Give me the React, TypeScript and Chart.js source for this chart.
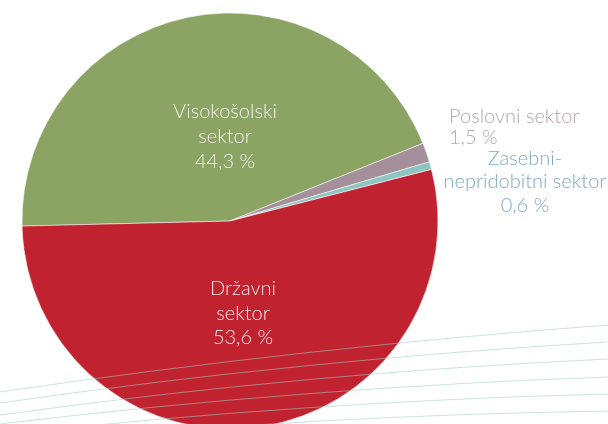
import React, { useEffect, useRef } from "react";
import { Chart, ArcElement, PieController } from "chart.js";

Chart.register(ArcElement, PieController);

// ---- data ----
const categories = [
  "Visokošolski sektor",
  "Poslovni sektor",
  "Zasebni-nepridobitni sektor",
  "Državni sektor",
];
const labelLines = [
  ["Visokošolski", "sektor"],
  ["Poslovni sektor"],
  ["Zasebni-", "nepridobitni sektor"],
  ["Državni", "sektor"],
];
const shares = [44.3, 1.5, 0.6, 53.6];
const valueLabels = ["44,3 %", "1,5 %", "0,6 %", "53,6 %"];

// ---- styling ----
const sliceColors = ["#8BA464", "#A48F9B", "#8FC5C0", "#C0222F"];
const textColors = ["#F4F1EA", "#B8A2AE", "#80A9C2", "#F6E6E8"];
// label anchor relative to pie centre, in units of the radius
const labelLayout = [
  { dx: -0.024, dy: -0.495, align: "center", lh: 24.8, size: 20 },
  { dx: 1.053, dy: -0.473, align: "left", lh: 21.6, size: 20 },
  { dx: 1.418, dy: -0.269, align: "center", lh: 23.3, size: 20 },
  { dx: 0.0625, dy: 0.356, align: "center", lh: 24.5, size: 20 },
];
const waveCurves = [
  [392, 347.5, 325],
  [403, 359.5, 342],
  [415, 373, 359],
  [424, 387.5, 377],
  [435, 401.5, 394],
  [446, 415.5, 411],
];

const labelsPlugin = {
  id: "sliceLabels",
  afterDatasetsDraw(chart: any) {
    const ctx = chart.ctx;
    const meta = chart.getDatasetMeta(0);
    ctx.save();
    meta.data.forEach((arc: any, i: number) => {
      const { x, y, outerRadius } = arc.getProps(["x", "y", "outerRadius"], true);
      const L = labelLayout[i];
      const ax = x + L.dx * outerRadius;
      const ay = y + L.dy * outerRadius;
      ctx.font = `300 ${L.size}px Lato, "Open Sans", sans-serif`;
      ctx.fillStyle = textColors[i];
      ctx.textAlign = L.align;
      ctx.textBaseline = "alphabetic";
      const lines = [...labelLines[i], valueLabels[i]];
      lines.forEach((t, k) => ctx.fillText(t, ax, ay + k * L.lh));
    });
    ctx.restore();
  },
  afterDraw(chart: any) {
    const ctx = chart.ctx;
    const w = chart.width;
    ctx.save();
    ctx.strokeStyle = "rgba(160,205,195,0.55)";
    ctx.lineWidth = 1.2;
    waveCurves.forEach(([y0, yc, y1]) => {
      ctx.beginPath();
      ctx.moveTo(0, y0);
      ctx.quadraticCurveTo(w / 2, yc, w, y1);
      ctx.stroke();
    });
    ctx.restore();
  },
};

export default function App() {
  const ref = useRef<HTMLCanvasElement | null>(null);
  useEffect(() => {
    document.body.style.margin = "0";
    const chart = new Chart(ref.current as HTMLCanvasElement, {
      type: "pie",
      data: {
        labels: categories,
        datasets: [
          {
            data: shares,
            backgroundColor: sliceColors,
            borderColor: "rgba(255,255,255,0.55)",
            borderWidth: 1,
          },
        ],
      },
      options: {
        responsive: false,
        animation: false,
        devicePixelRatio: 1,
        rotation: 268.6,
        radius: 208,
        layout: { padding: { left: 0, top: 0, bottom: 0, right: 148 } },
        plugins: { legend: { display: false }, tooltip: { enabled: false } },
      },
      plugins: [labelsPlugin],
    });
    return () => chart.destroy();
  }, []);
  return (
    <div
      style={{
        position: "fixed",
        left: 0,
        top: 0,
        width: 608,
        height: 424,
        overflow: "hidden",
        background: "#fff",
      }}
    >
      <canvas ref={ref} width={608} height={442} style={{ display: "block" }} />
    </div>
  );
}
